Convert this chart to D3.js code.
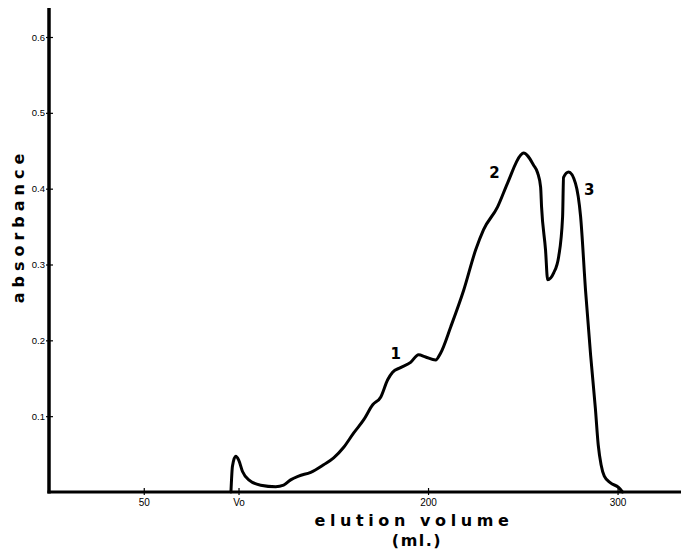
<!DOCTYPE html>
<html>
<head>
<meta charset="utf-8">
<script src="https://cdn.jsdelivr.net/npm/d3@7"></script>
<style>
  html, body { margin: 0; padding: 0; background: #fff; }
  svg { display: block; }
</style>
</head>
<body>
<svg id="chart" width="681" height="551"></svg>
<script>
// ---- data ----
const elutionVolume = [96, 96.8, 98.5, 100.1, 102.1, 105.4, 111.7, 119.6, 123.8, 127.5, 131.7, 138.1, 144.9, 150.2, 155.5, 160.8, 166, 170.8, 175, 178.7, 181.3, 185.5, 190.8, 195, 198.7, 204, 206.6, 212, 218.8, 225.1, 229.3, 236.7, 241.9, 248.8, 250.4, 255.7, 257.8, 259.4, 259.9, 262, 263.1, 266.3, 268.9, 271, 271.5, 274.2, 277.8, 280.5, 283.1, 285.8, 288.3, 289.8, 291.3, 293, 296.3, 300.5, 302.6];
const absorbance    = [0, 0.034, 0.047, 0.042, 0.027, 0.016, 0.009, 0.007, 0.009, 0.016, 0.021, 0.026, 0.036, 0.045, 0.059, 0.078, 0.095, 0.115, 0.125, 0.148, 0.158, 0.164, 0.171, 0.181, 0.178, 0.174, 0.183, 0.218, 0.266, 0.319, 0.346, 0.376, 0.407, 0.444, 0.447, 0.431, 0.421, 0.402, 0.376, 0.319, 0.280, 0.289, 0.310, 0.363, 0.415, 0.422, 0.407, 0.363, 0.266, 0.180, 0.110, 0.062, 0.036, 0.021, 0.012, 0.006, 0];

const yTickValues = [0.1, 0.2, 0.3, 0.4, 0.5, 0.6];
const yTickLabels = ["0.1", "0.2", "0.3", "0.4", "0.5", "0.6"];
const xTickValues = [50, 100, 200, 300];
const xTickLabels = ["50", "Vo", "200", "300"];

const peakNames = ["1", "2", "3"];
const peakVolume = [183, 235, 285];
const peakAbsorbance = [0.182, 0.421, 0.398];

const xTitle = "elution volume";
const xUnit = "(ml.)";
const yTitle = "absorbance";

// ---- layout ----
const svg = d3.select("#chart");
const x = d3.scaleLinear().domain([0, 334]).range([49, 682]);
const y = d3.scaleLinear().domain([0, 0.6]).range([492, 37]);
const yTop = 8;

// axes lines
svg.append("line")
  .attr("x1", x(0)).attr("x2", x(0))
  .attr("y1", yTop).attr("y2", y(0) + 1.5)
  .attr("stroke", "#000").attr("stroke-width", 3.5);
svg.append("line")
  .attr("x1", x(0) - 1.5).attr("x2", 681)
  .attr("y1", y(0)).attr("y2", y(0))
  .attr("stroke", "#000").attr("stroke-width", 3);

// y axis ticks and labels
const yAxis = d3.axisLeft(y)
  .tickValues(yTickValues)
  .tickFormat((d, i) => yTickLabels[i])
  .tickSize(0)
  .tickPadding(3);
const gy = svg.append("g").attr("transform", `translate(${x(0) - 1},0)`).call(yAxis);
gy.select(".domain").remove();
gy.selectAll("text").attr("font-family", "Liberation Sans, Arial, sans-serif").attr("font-size", 9.5).attr("fill", "#000");
gy.selectAll(".tick").append("line")
  .attr("x1", -2).attr("x2", 5).attr("y1", 0).attr("y2", 0)
  .attr("stroke", "#000").attr("stroke-width", 1.2);

// x axis ticks and labels
const xAxis = d3.axisBottom(x)
  .tickValues(xTickValues)
  .tickFormat((d, i) => xTickLabels[i])
  .tickSize(0)
  .tickPadding(7);
const gx = svg.append("g").attr("transform", `translate(0,${y(0)})`).call(xAxis);
gx.select(".domain").remove();
gx.selectAll("text").attr("font-family", "Liberation Sans, Arial, sans-serif").attr("font-size", 10).attr("fill", "#000");
gx.selectAll(".tick").append("line")
  .attr("x1", 0).attr("x2", 0).attr("y1", -4).attr("y2", 3)
  .attr("stroke", "#000").attr("stroke-width", 1.2);

// curve
const pts = elutionVolume.map((v, i) => [v, absorbance[i]]);
const line = d3.line()
  .x(d => x(d[0]))
  .y(d => y(d[1]))
  .curve(d3.curveMonotoneX);
svg.append("path")
  .datum(pts)
  .attr("d", line)
  .attr("fill", "none")
  .attr("stroke", "#000")
  .attr("stroke-width", 3)
  .attr("stroke-linejoin", "round")
  .attr("stroke-linecap", "round");

// peak labels
svg.selectAll("text.peak")
  .data(peakNames)
  .enter().append("text")
  .attr("class", "peak")
  .attr("x", (d, i) => x(peakVolume[i]))
  .attr("y", (d, i) => y(peakAbsorbance[i]))
  .attr("text-anchor", "middle")
  .attr("dominant-baseline", "central")
  .attr("font-family", "DejaVu Sans, sans-serif")
  .attr("font-weight", "bold")
  .attr("font-size", 15)
  .text(d => d);

// axis titles
svg.append("text")
  .attr("x", 414).attr("y", 526)
  .attr("text-anchor", "middle")
  .attr("font-family", "DejaVu Sans, sans-serif")
  .attr("font-weight", "bold")
  .attr("font-size", 16)
  .attr("letter-spacing", "4.6px")
  .text(xTitle);
svg.append("text")
  .attr("x", 417).attr("y", 546)
  .attr("text-anchor", "middle")
  .attr("font-family", "DejaVu Sans, sans-serif")
  .attr("font-weight", "bold")
  .attr("font-size", 16)
  .attr("letter-spacing", "1.5px")
  .text(xUnit);
svg.append("text")
  .attr("transform", "translate(24,226) rotate(-90)")
  .attr("text-anchor", "middle")
  .attr("font-family", "DejaVu Sans, sans-serif")
  .attr("font-weight", "bold")
  .attr("font-size", 16)
  .attr("letter-spacing", "5px")
  .text(yTitle);
</script>
</body>
</html>
